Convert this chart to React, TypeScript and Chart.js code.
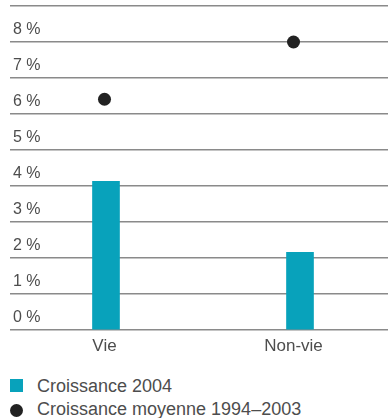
import React, { useEffect, useRef } from "react";
import { Chart, registerables } from "chart.js";

Chart.register(...registerables);

const categories = ["Vie", "Non-vie"];
const growth2004 = [4.13, 2.16];
const avgGrowth9403 = [6.41, 8.0];
const yTickValues = [0, 1, 2, 3, 4, 5, 6, 7, 8, 9];
const legendLabels = ["Croissance 2004", "Croissance moyenne 1994–2003"];

const TEAL = "#08a2bb";
const DOT = "#222222";
const TEXT = "#4d4d4d";
const FONT = "'Liberation Sans', Arial, sans-serif";

export default function App() {
  const ref = useRef<HTMLCanvasElement | null>(null);

  useEffect(() => {
    if (!ref.current) return;
    const chart = new Chart(ref.current, {
      type: "bar",
      data: {
        labels: categories,
        datasets: [
          {
            type: "bar",
            label: legendLabels[0],
            data: growth2004.map((y, i) => ({ x: i, y })) as any,
            xAxisID: "xb",
            backgroundColor: TEAL,
            borderWidth: 0,
            barThickness: 27,
            order: 2,
          },
          {
            type: "line",
            label: legendLabels[1],
            data: avgGrowth9403,
            xAxisID: "x",
            showLine: false,
            pointRadius: 6.5,
            pointBackgroundColor: DOT,
            pointBorderWidth: 0,
            borderColor: DOT,
            order: 1,
          } as any,
        ],
      },
      options: {
        responsive: false,
        animation: false,
        layout: { autoPadding: false, padding: { left: 10, top: 6, right: 0, bottom: 0 } },
        plugins: { legend: { display: false }, tooltip: { enabled: false } },
        scales: {
          x: {
            type: "category",
            offset: true,
            grid: { display: false },
            border: { display: false },
            ticks: {
              color: TEXT,
              font: { family: FONT, size: 17 },
              padding: -2,
            },
            afterFit: (s: any) => {
              s.height = 30;
              s.paddingLeft = 0;
              s.paddingRight = 0;
            },
          },
          xb: {
            type: "linear",
            display: false,
            offset: false,
            grid: { offset: false },
            min: -0.5644,
            max: 1.384,
          },
          y: {
            type: "linear",
            min: 0,
            max: 9,
            border: { display: false },
            grid: { color: "#8a8a8a", lineWidth: 1.5, drawTicks: false },
            afterBuildTicks: (s: any) => {
              s.ticks = yTickValues.map((v) => ({ value: v }));
            },
            afterFit: (s: any) => {
              s.width = 0;
              s.paddingTop = 0;
              s.paddingBottom = 0;
            },
            ticks: {
              mirror: true,
              padding: 3,
              labelOffset: -12,
              color: TEXT,
              font: { family: FONT, size: 16 },
              callback: (v: any) => (v === 9 ? "" : `${v} %`),
            },
          },
        },
      } as any,
    });
    return () => chart.destroy();
  }, []);

  const legendText: React.CSSProperties = {
    position: "absolute",
    left: 37,
    fontFamily: FONT,
    fontSize: 18,
    color: TEXT,
    lineHeight: "20px",
    whiteSpace: "nowrap",
  };

  return (
    <div style={{ position: "absolute", left: 0, top: 0, width: 388, height: 418, background: "#fff" }}>
      <canvas ref={ref} width={388} height={360} style={{ position: "absolute", left: 0, top: 0 }} />
      <div style={{ position: "absolute", left: 10, top: 379, width: 13, height: 13, background: TEAL }} />
      <div style={{ ...legendText, top: 376 }}>{legendLabels[0]}</div>
      <div style={{ position: "absolute", left: 10, top: 404, width: 13, height: 13, borderRadius: "50%", background: DOT }} />
      <div style={{ ...legendText, top: 399 }}>{legendLabels[1]}</div>
    </div>
  );
}
